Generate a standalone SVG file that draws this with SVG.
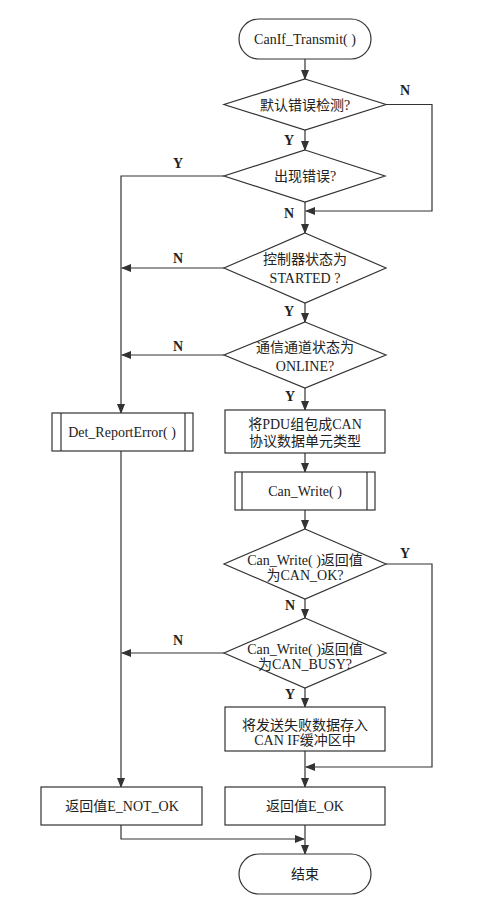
<svg xmlns="http://www.w3.org/2000/svg" width="485" height="901" viewBox="0 0 485 901">
<style>
.s{fill:#fff;stroke:#333;stroke-width:1.2}
.c{fill:none;stroke:#333;stroke-width:1.2}
.t{font-family:"Liberation Serif","Noto Sans CJK SC",serif;font-size:14px;fill:#222;text-anchor:middle}
.l{font-family:"Liberation Serif",serif;font-size:14px;font-weight:bold;fill:#222;text-anchor:middle}
</style>
<defs>
<marker id="a" markerWidth="10" markerHeight="8" refX="9" refY="4" orient="auto" markerUnits="userSpaceOnUse">
<path d="M0,0 L10,4 L0,8 Z" fill="#333"/>
</marker>
</defs>
<rect width="485" height="901" fill="#fff"/>
<g id="connectors">
<path class="c" d="M305,59 V79" marker-end="url(#a)"/>
<path class="c" d="M305,130 V150" marker-end="url(#a)"/>
<path class="c" d="M386,104.5 H432 V211 H306" marker-end="url(#a)"/>
<path class="c" d="M305,202 V233" marker-end="url(#a)"/>
<path class="c" d="M224,176 H121 V413" marker-end="url(#a)"/>
<path class="c" d="M224,268 H122" marker-end="url(#a)"/>
<path class="c" d="M305,303 V322" marker-end="url(#a)"/>
<path class="c" d="M224,355 H122" marker-end="url(#a)"/>
<path class="c" d="M305,388 V410" marker-end="url(#a)"/>
<path class="c" d="M305,453 V472" marker-end="url(#a)"/>
<path class="c" d="M305,510 V529" marker-end="url(#a)"/>
<path class="c" d="M386,564 H432 V767 H306" marker-end="url(#a)"/>
<path class="c" d="M305,599 V618" marker-end="url(#a)"/>
<path class="c" d="M224,653 H122" marker-end="url(#a)"/>
<path class="c" d="M305,688 V707" marker-end="url(#a)"/>
<path class="c" d="M305,751 V787" marker-end="url(#a)"/>
<path class="c" d="M121,451 V787" marker-end="url(#a)"/>
<path class="c" d="M121,825 V839 H304" marker-end="url(#a)"/>
<path class="c" d="M305,825 V854" marker-end="url(#a)"/>
<text class="l" x="405" y="95">N</text>
<text class="l" x="289" y="145">Y</text>
<text class="l" x="178" y="168">Y</text>
<text class="l" x="289" y="218">N</text>
<text class="l" x="178" y="263">N</text>
<text class="l" x="289" y="316">Y</text>
<text class="l" x="178" y="351">N</text>
<text class="l" x="290" y="401">Y</text>
<text class="l" x="405" y="558">Y</text>
<text class="l" x="290" y="610">N</text>
<text class="l" x="178" y="645">N</text>
<text class="l" x="290" y="699">Y</text>
</g>
<g id="start">
<rect class="s" x="239" y="19" width="132" height="40" rx="20"/>
<text class="t" x="305" y="44">CanIf_Transmit( )</text>
</g>
<g id="d1">
<polygon class="s" points="305,79 386,104.5 305,130 224,104.5"/>
<text class="t" x="305" y="110">默认错误检测?</text>
</g>
<g id="d2">
<polygon class="s" points="305,150 385,176 305,202 224,176"/>
<text class="t" x="305" y="181">出现错误?</text>
</g>
<g id="d3">
<polygon class="s" points="305,233 386,268 305,303 224,268"/>
<text class="t" x="305" y="264">控制器状态为</text>
<text class="t" x="305" y="283">STARTED ?</text>
</g>
<g id="d4">
<polygon class="s" points="305,322 386,355 305,388 224,355"/>
<text class="t" x="305" y="352">通信通道状态为</text>
<text class="t" x="305" y="371">ONLINE?</text>
</g>
<g id="det">
<rect class="s" x="52" y="413" width="141" height="38"/>
<path class="c" d="M61,413 V451 M185,413 V451"/>
<text class="t" x="122" y="437">Det_ReportError( )</text>
</g>
<g id="pack">
<rect class="s" x="225" y="410" width="160" height="43"/>
<text class="t" x="305" y="429">将PDU组包成CAN</text>
<text class="t" x="305" y="446">协议数据单元类型</text>
</g>
<g id="canwrite">
<rect class="s" x="235" y="472" width="140" height="38"/>
<path class="c" d="M242,472 V510 M367,472 V510"/>
<text class="t" x="305" y="496">Can_Write( )</text>
</g>
<g id="d5">
<polygon class="s" points="305,529 386,564 305,599 224,564"/>
<text class="t" x="305" y="565">Can_Write( )返回值</text>
<text class="t" x="305" y="580">为CAN_OK?</text>
</g>
<g id="d6">
<polygon class="s" points="305,618 386,653 305,688 224,653"/>
<text class="t" x="305" y="654">Can_Write( )返回值</text>
<text class="t" x="305" y="669">为CAN_BUSY?</text>
</g>
<g id="store">
<rect class="s" x="225" y="707" width="160" height="44"/>
<text class="t" x="305" y="730">将发送失败数据存入</text>
<text class="t" x="305" y="745">CAN IF缓冲区中</text>
</g>
<g id="notok">
<rect class="s" x="41" y="787" width="161" height="38"/>
<text class="t" x="122" y="811">返回值E_NOT_OK</text>
</g>
<g id="ok">
<rect class="s" x="225" y="787" width="160" height="38"/>
<text class="t" x="305" y="811">返回值E_OK</text>
</g>
<g id="end">
<rect class="s" x="239" y="854" width="132" height="40" rx="20"/>
<text class="t" x="305" y="879">结束</text>
</g>
</svg>
